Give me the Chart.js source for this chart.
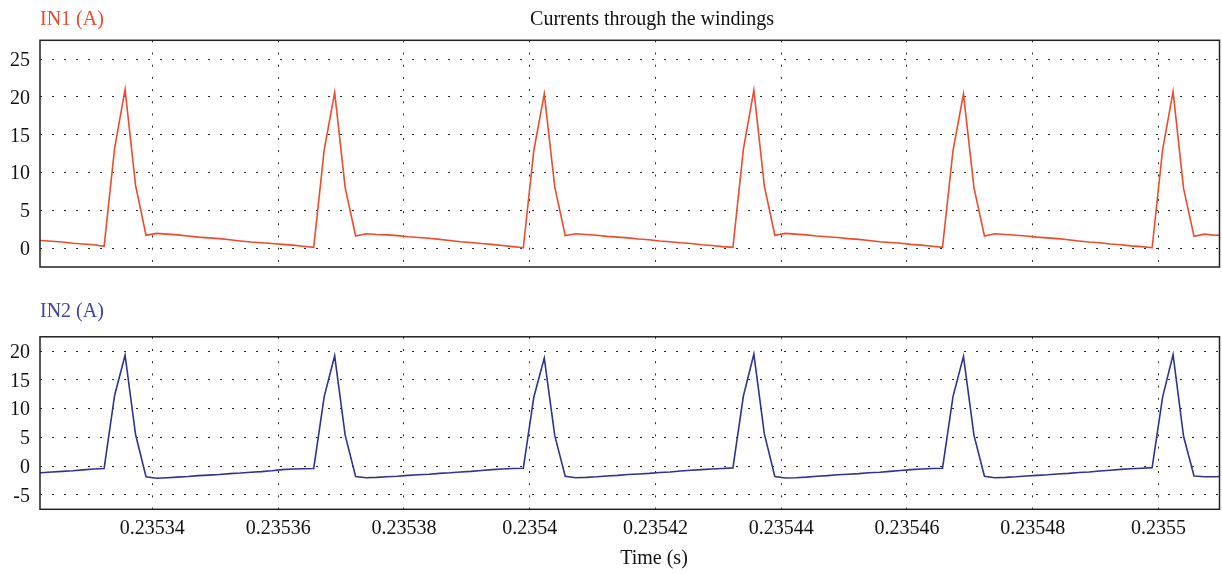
<!DOCTYPE html>
<html>
<head>
<meta charset="utf-8">
<title>Currents through the windings</title>
<script src="https://cdn.jsdelivr.net/npm/chart.js@4/dist/chart.umd.min.js"></script>
<style>
  html, body { margin: 0; padding: 0; background: #ffffff; }
  #wrap { position: relative; width: 1222px; height: 575px; overflow: hidden; }
  canvas { position: absolute; left: 0; }
</style>
</head>
<body>
<div id="wrap">
  <canvas id="in1Canvas" width="1222" height="290" style="top:0px"></canvas>
  <canvas id="in2Canvas" width="1222" height="300" style="top:275px"></canvas>
</div>
<script>
// Simulation sample clock (s)
const sampleStart = 0.23532066;
const sampleStep = 1 / 600000;

// Winding current IN1 (A), one value per sample
const in1Values = [
  1.1, 1.0, 0.9, 0.8, 0.65, 0.55, 0.45, 0.25,
  13.2, 21.0, 8.3, 1.7, 1.95, 1.85, 1.75, 1.6, 1.45, 1.35, 1.25, 1.1, 0.95, 0.8, 0.7, 0.6, 0.5, 0.4, 0.25, 0.1,
  13.0, 20.6, 8.0, 1.6, 1.9, 1.8, 1.75, 1.65, 1.5, 1.4, 1.3, 1.15, 1.0, 0.85, 0.75, 0.6, 0.5, 0.35, 0.2, 0.05,
  12.9, 20.4, 8.1, 1.65, 1.9, 1.8, 1.7, 1.55, 1.45, 1.35, 1.2, 1.1, 0.95, 0.85, 0.7, 0.6, 0.45, 0.35, 0.2, 0.1,
  13.1, 20.9, 8.2, 1.7, 1.95, 1.85, 1.75, 1.6, 1.5, 1.4, 1.25, 1.15, 1.0, 0.85, 0.75, 0.65, 0.5, 0.4, 0.25, 0.1,
  12.9, 20.4, 8.0, 1.6, 1.9, 1.8, 1.7, 1.6, 1.45, 1.35, 1.25, 1.1, 0.95, 0.8, 0.7, 0.55, 0.45, 0.3, 0.2, 0.05,
  13.0, 20.7, 7.9, 1.55, 1.85, 1.7, 1.75
];

// Winding current IN2 (A), one value per sample
const in2Values = [
  -1.3, -1.15, -1.0, -0.9, -0.8, -0.65, -0.5, -0.4,
  12.3, 19.3, 5.5, -1.85, -2.1, -2.0, -1.9, -1.8, -1.65, -1.55, -1.45, -1.3, -1.2, -1.05, -0.95, -0.8, -0.6, -0.5, -0.45, -0.4,
  12.1, 19.2, 5.4, -1.8, -2.0, -1.95, -1.85, -1.75, -1.6, -1.5, -1.4, -1.25, -1.15, -1.0, -0.9, -0.75, -0.6, -0.5, -0.4, -0.35,
  12.0, 18.8, 5.3, -1.75, -2.0, -1.95, -1.85, -1.7, -1.6, -1.45, -1.35, -1.25, -1.1, -1.0, -0.85, -0.7, -0.6, -0.5, -0.4, -0.3,
  12.2, 19.5, 5.6, -1.8, -2.05, -2.0, -1.9, -1.75, -1.65, -1.5, -1.4, -1.3, -1.15, -1.05, -0.9, -0.75, -0.6, -0.5, -0.4, -0.35,
  12.1, 19.1, 5.4, -1.75, -2.0, -1.95, -1.85, -1.7, -1.6, -1.5, -1.35, -1.25, -1.1, -1.0, -0.85, -0.7, -0.55, -0.45, -0.35, -0.25,
  12.0, 19.4, 5.2, -1.7, -1.85, -1.85, -1.75
];

// Axis ticks
const timeTicks = [0.23534, 0.23536, 0.23538, 0.2354, 0.23542, 0.23544, 0.23546, 0.23548, 0.2355];
const timeTickLabels = ['0.23534', '0.23536', '0.23538', '0.2354', '0.23542', '0.23544', '0.23546', '0.23548', '0.2355'];
const in1Ticks = [0, 5, 10, 15, 20, 25];
const in2Ticks = [-5, 0, 5, 10, 15, 20];

const timeMin = 0.23532213;
const timeMax = 0.23550971;

const FONT_FAMILY = "'Liberation Serif', 'DejaVu Serif', serif";
const RED = '#ee4a2b';
const BLUE = '#2f3391';

function toPoints(values) {
  return values.map((v, i) => ({ x: sampleStart + i * sampleStep, y: v }));
}

// Closed frame around the plotting area
const framePlugin = {
  id: 'frame',
  afterDraw(chart) {
    const { ctx, chartArea: a } = chart;
    ctx.save();
    ctx.strokeStyle = '#222';
    ctx.lineWidth = 1.5;
    ctx.strokeRect(a.left, a.top, a.right - a.left, a.bottom - a.top);
    ctx.restore();
  }
};

// Free-standing captions
const captionPlugin = {
  id: 'captions',
  afterDraw(chart, args, opts) {
    const ctx = chart.ctx;
    ctx.save();
    (opts.items || []).forEach(t => {
      ctx.font = '20px ' + FONT_FAMILY;
      ctx.fillStyle = t.color;
      ctx.textAlign = t.align;
      ctx.textBaseline = 'alphabetic';
      ctx.fillText(t.text, t.x, t.y);
    });
    ctx.restore();
  }
};

function timeScale(showLabels) {
  return {
    type: 'linear',
    min: timeMin,
    max: timeMax,
    afterBuildTicks: s => { s.ticks = timeTicks.map(v => ({ value: v })); },
    grid: { color: '#2a2a2a', lineWidth: 1, drawTicks: false },
    border: { display: false, dash: [2, 10.2] },
    ticks: {
      display: showLabels,
      autoSkip: false,
      maxRotation: 0,
      padding: 7,
      color: '#111',
      font: { family: FONT_FAMILY, size: 20 },
      callback: (v, i) => timeTickLabels[i]
    },
    afterFit: s => { s.height = showLabels ? 40 : 23; }
  };
}

function valueScale(min, max, ticks) {
  return {
    min: min,
    max: max,
    afterBuildTicks: s => { s.ticks = ticks.map(v => ({ value: v })); },
    grid: { color: '#2a2a2a', lineWidth: 1, drawTicks: false },
    border: { display: false, dash: [2, 10] },
    ticks: {
      padding: 10,
      labelOffset: 1.5,
      color: '#111',
      font: { family: FONT_FAMILY, size: 20 },
      callback: v => String(v)
    },
    afterFit: s => { s.width = 40; }
  };
}

function makeChart(id, values, color, yMin, yMax, yTicks, showTime, padding, captions) {
  return new Chart(document.getElementById(id), {
    type: 'line',
    data: {
      datasets: [{
        data: toPoints(values),
        borderColor: color,
        borderWidth: 1.6,
        pointRadius: 0,
        tension: 0,
        fill: false
      }]
    },
    options: {
      responsive: false,
      maintainAspectRatio: false,
      devicePixelRatio: 1,
      animation: false,
      parsing: false,
      layout: { padding: padding },
      plugins: {
        legend: { display: false },
        tooltip: { enabled: false },
        captions: { items: captions }
      },
      scales: {
        x: timeScale(showTime),
        y: valueScale(yMin, yMax, yTicks)
      }
    },
    plugins: [framePlugin, captionPlugin]
  });
}

makeChart('in1Canvas', in1Values, RED, -2.5, 27.5, in1Ticks, false,
  { top: 40.3, right: 2.5, bottom: 0, left: 0 },
  [
    { text: 'IN1 (A)', x: 40, y: 25, color: RED, align: 'left' },
    { text: 'Currents through the windings', x: 652, y: 25, color: '#111', align: 'center' }
  ]);

makeChart('in2Canvas', in2Values, BLUE, -7.5, 22.5, in2Ticks, true,
  { top: 61.8, right: 2.5, bottom: 25.7, left: 0 },
  [
    { text: 'IN2 (A)', x: 40, y: 41.7, color: '#3d45a0', align: 'left' },
    { text: 'Time (s)', x: 654, y: 289, color: '#111', align: 'center' }
  ]);
</script>
</body>
</html>
